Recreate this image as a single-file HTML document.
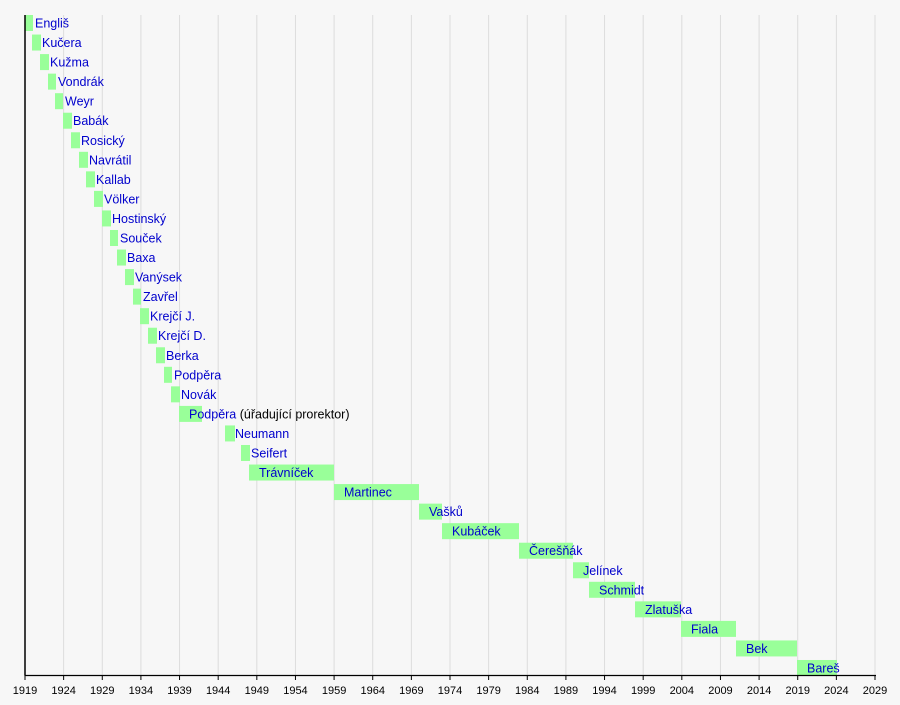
<!DOCTYPE html>
<html><head><meta charset="utf-8"><style>
body{margin:0;background:#f7f7f7}
svg{display:block;font-family:"Liberation Sans",sans-serif}
</style></head><body>
<svg width="900" height="705" viewBox="0 0 900 705" xmlns="http://www.w3.org/2000/svg">
<rect width="900" height="705" fill="#f7f7f7"/>
<g id="grid" stroke="#dcdcdc" stroke-width="1"></g>
<g id="bars"></g>
<line x1="25" y1="15" x2="25" y2="675.5" stroke="#000" stroke-width="1.5"/>
<line x1="25" y1="675.5" x2="876" y2="675.5" stroke="#000" stroke-width="1.2"/>
<g id="ticks" stroke="#000"></g>
<g id="tl" font-size="11" fill="#000" text-anchor="middle"></g>
<g id="labels" font-size="12.5" fill="#0000cc"></g>
<script>
var ns="http://www.w3.org/2000/svg";
function el(t,a,p,txt){var e=document.createElementNS(ns,t);for(var k in a)e.setAttribute(k,a[k]);if(txt)e.textContent=txt;document.getElementById(p).appendChild(e);return e;}
for(var i=0;i<=22;i++){var x=25+i*850/22;
 if(i>0)el('line',{x1:x,y1:15,x2:x,y2:675},'grid');
 el('line',{x1:x,y1:675,x2:x,y2:680},'ticks');
 el('text',{x:x,y:694},'tl',String(1919+i*5));}
var d=[[25,33,"Engliš"],[32,41,"Kučera"],[40,49,"Kužma"],[48,56,"Vondrák"],[55,63,"Weyr"],[63,72,"Babák"],[71,80,"Rosický"],[79,88,"Navrátil"],[86,95,"Kallab"],[94,103,"Völker"],[102,111,"Hostinský"],[110,118,"Souček"],[117,126,"Baxa"],[125,134,"Vanýsek"],[133,141,"Zavřel"],[140,149,"Krejčí J."],[148,157,"Krejčí D."],[156,165,"Berka"],[164,172,"Podpěra"],[171,180,"Novák"],[179,202,"Podpěra"],[225,235,"Neumann"],[241,250,"Seifert"],[249,334,"Trávníček"],[334,419,"Martinec"],[419,442,"Vašků"],[442,519,"Kubáček"],[519,573,"Čerešňák"],[573,589,"Jelínek"],[589,635,"Schmidt"],[635,681,"Zlatuška"],[681,736,"Fiala"],[736,797,"Bek"],[797,837,"Bareš"]];
d.forEach(function(r,i){var c=23+i*19.545;
 el('rect',{x:r[0],y:c-8,width:r[1]-r[0],height:16,fill:'#99ff99'},'bars');
 var t=el('text',{x:r[0]+10,y:c+4.5},'labels',r[2]);
 if(i==20){var s=document.createElementNS(ns,'tspan');s.setAttribute('fill','#000');s.textContent=" (úřadující prorektor)";t.appendChild(s);}
});
</script>
</svg>
</body></html>
